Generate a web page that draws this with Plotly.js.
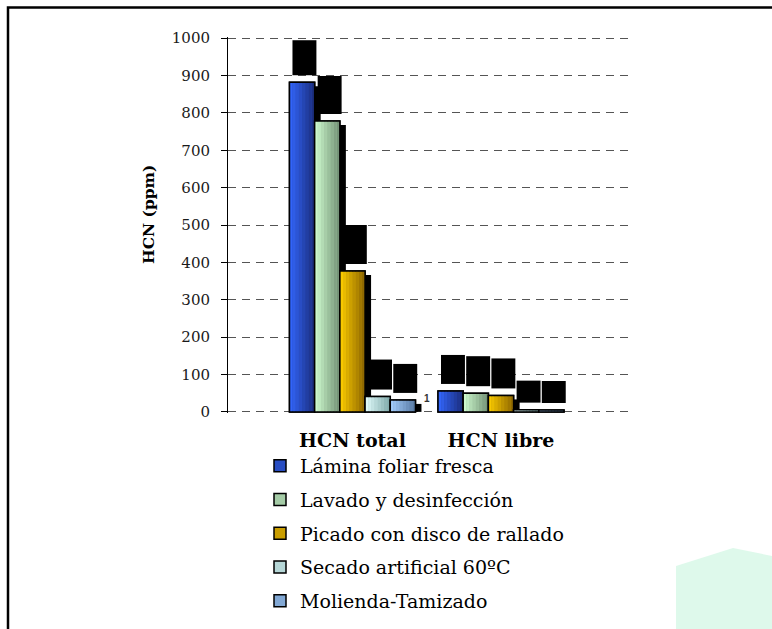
<!DOCTYPE html>
<html>
<head>
<meta charset="utf-8">
<script src="https://cdn.plot.ly/plotly-3.0.1.min.js"></script>
<style>
  html, body { margin: 0; padding: 0; background: #ffffff; }
  #chart { width: 772px; height: 629px; }
</style>
</head>
<body>
<div id="chart"></div>
<script>
// HCN content (ppm) of the leaf material after each processing stage
const categories = ['HCN total', 'HCN libre'];
const stages = [
  'Lámina foliar fresca',
  'Lavado y desinfección',
  'Picado con disco de rallado',
  'Secado artificial 60ºC',
  'Molienda-Tamizado'
];
const laminaFoliar = [882, 56];
const lavado       = [778, 50];
const picado       = [377, 44];
const secado       = [41, 6];
const molienda     = [32, 5];
const stageValues  = [laminaFoliar, lavado, picado, secado, molienda];
const yTickValues  = [0, 100, 200, 300, 400, 500, 600, 700, 800, 900, 1000];
const yTickLabels  = ['0', '100', '200', '300', '400', '500', '600', '700', '800', '900', '1000'];

// ---- styling ----
const W = 772, H = 629;
const M = { l: 228, r: 144, t: 37, b: 216, autoexpand: false };
const plotW = W - M.l - M.r, plotH = H - M.t - M.b;
const yRange = [-3, 1003];
const xRange = [-0.838, 1.855];
const unitsPerPx = (yRange[1] - yRange[0]) / plotH;
const catPx = plotW / (xRange[1] - xRange[0]);
const barW = 25.2 / catPx;

// left-to-right shading of each bar (light edge -> dark edge)
const stageShades = [
  ['#3468ff', '#1a2b78'],
  ['#d2ffd2', '#6f8d72'],
  ['#ffcf00', '#8a6300'],
  ['#e4ffff', '#7da6a6'],
  ['#a6d0ff', '#55769f']
];
// height (px) of the dark label block above each bar, per category
const labelBlockPx = [[35, 29], [38, 30], [39, 30], [30, 22], [29, 22]];
const labelGapPx = 7;
const strips = 8;

function hexToRgb(h) {
  return [parseInt(h.slice(1, 3), 16), parseInt(h.slice(3, 5), 16), parseInt(h.slice(5, 7), 16)];
}
function mix(a, b, t) {
  const A = hexToRgb(a), B = hexToRgb(b);
  const c = A.map((v, i) => Math.round(v + (B[i] - v) * t));
  return 'rgb(' + c.join(',') + ')';
}
const px2x = p => (p - M.l) / plotW;
const px2y = p => (H - M.b - p) / plotH;

const traces = [];
const common = { type: 'bar', x: categories, hoverinfo: 'skip', cliponaxis: false };
const offsetOf = i => -stages.length * barW / 2 + i * barW;

// drop shadows behind the bars
stageValues.forEach((vals, i) => {
  traces.push(Object.assign({}, common, {
    y: vals.map(v => Math.max(v - 4 * unitsPerPx, 0)),
    width: barW, offset: offsetOf(i) + 6 / catPx,
    marker: { color: '#000000', line: { width: 0 } },
    showlegend: false
  }));
});

// bars: base (legend entry), shaded strips, outline
stageValues.forEach((vals, i) => {
  const [c0, c1] = stageShades[i];
  traces.push(Object.assign({}, common, {
    name: stages[i], legendgroup: stages[i],
    y: vals, width: barW, offset: offsetOf(i),
    marker: { color: mix(c0, c1, 0.45), line: { color: '#000000', width: 1.5 } }
  }));
  for (let k = 0; k < strips; k++) {
    traces.push(Object.assign({}, common, {
      y: vals, width: barW / strips, offset: offsetOf(i) + k * barW / strips,
      marker: { color: mix(c0, c1, (k + 0.5) / strips), line: { width: 0 } },
      showlegend: false
    }));
  }
  traces.push(Object.assign({}, common, {
    y: vals, width: barW, offset: offsetOf(i),
    marker: { color: 'rgba(0,0,0,0)', line: { color: '#000000', width: 1.5 } },
    showlegend: false
  }));
});

// dark label blocks above each bar
stageValues.forEach((vals, i) => {
  traces.push(Object.assign({}, common, {
    y: labelBlockPx[i].map(p => p * unitsPerPx),
    base: vals.map(v => v + labelGapPx * unitsPerPx),
    width: barW * 0.95, offset: offsetOf(i) + 3 / catPx,
    marker: { color: '#000000', line: { width: 0 } },
    showlegend: false
  }));
});

const serif = 'DejaVu Serif, Liberation Serif, serif';

const layout = {
  width: W, height: H,
  margin: M,
  paper_bgcolor: '#ffffff', plot_bgcolor: '#ffffff',
  barmode: 'overlay',
  showlegend: true,
  legend: {
    x: px2x(260), xanchor: 'left',
    y: px2y(447), yanchor: 'top',
    font: { family: serif, size: 19, color: '#000000' },
    tracegroupgap: 6,
    bgcolor: 'rgba(0,0,0,0)'
  },
  xaxis: {
    type: 'category', range: xRange, fixedrange: true,
    showgrid: false, showline: false, zeroline: false, ticks: '',
    tickfont: { family: serif, size: 19, color: '#000000', weight: 'bold' },
    ticklabelstandoff: 14
  },
  yaxis: {
    range: yRange, fixedrange: true,
    tickmode: 'array', tickvals: yTickValues, ticktext: yTickLabels,
    showline: true, linecolor: '#000000', linewidth: 1,
    ticks: 'outside', ticklen: 6, tickcolor: '#000000', tickwidth: 1,
    showgrid: true, gridcolor: '#555555', gridwidth: 1, griddash: '8px,6px',
    zeroline: false,
    tickfont: { family: serif, size: 15, color: '#1a1a1a' },
    ticklabelstandoff: 8
  },
  annotations: [
    {
      text: 'HCN (ppm)', textangle: -90,
      xref: 'paper', yref: 'paper', x: px2x(148), y: px2y(215),
      xanchor: 'center', yanchor: 'middle', showarrow: false,
      font: { family: serif, size: 15.5, color: '#000000', weight: 'bold' }
    },
    {
      text: '1', xref: 'x', yref: 'y', x: 0.5, y: 37,
      xanchor: 'center', yanchor: 'middle', showarrow: false,
      font: { family: 'Liberation Sans, Arial, sans-serif', size: 10, color: '#333333', weight: 'bold' }
    }
  ],
  shapes: [
    // frame around the figure
    {
      type: 'path', xref: 'paper', yref: 'paper',
      path: 'M' + px2x(8) + ',' + px2y(640) + ' L' + px2x(8) + ',' + px2y(7.5) + ' L' + px2x(780) + ',' + px2y(7.5),
      line: { color: '#000000', width: 2.5 }
    },
    // faint green patch in the lower right corner
    {
      type: 'path', xref: 'paper', yref: 'paper', layer: 'below',
      path: 'M' + px2x(676) + ',' + px2y(566) + ' L' + px2x(733) + ',' + px2y(548) +
            ' L' + px2x(772) + ',' + px2y(556) + ' L' + px2x(772) + ',' + px2y(629) +
            ' L' + px2x(676) + ',' + px2y(629) + ' Z',
      fillcolor: 'rgba(200,245,222,0.6)', line: { width: 0 }
    }
  ]
};

Plotly.newPlot('chart', traces, layout, { displayModeBar: false, staticPlot: true });
</script>
</body>
</html>
